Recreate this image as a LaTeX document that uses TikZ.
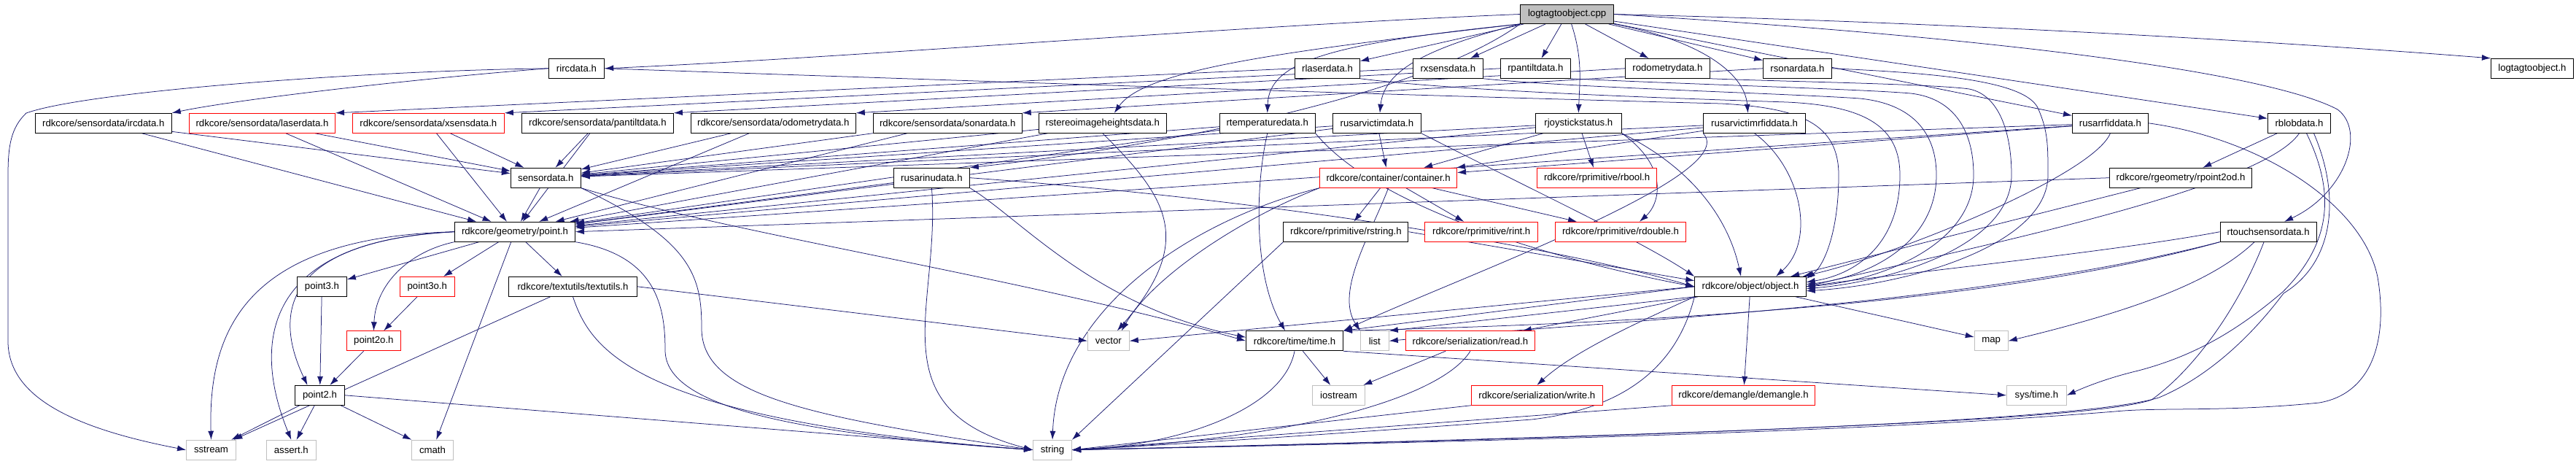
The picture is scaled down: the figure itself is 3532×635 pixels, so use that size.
\documentclass[tikz,border=0pt]{standalone}
\usepackage{fontspec}
\setmainfont{Liberation Sans}
\usetikzlibrary{arrows.meta,calc,backgrounds}
\definecolor{edgeblue}{HTML}{191970}
\definecolor{graybox}{HTML}{BFBFBF}
\definecolor{rootfill}{HTML}{BFBFBF}
\newcommand{\nfs}{\fontsize{13.2}{15}\selectfont}
\begin{document}
\begin{tikzpicture}[x=1pt,y=-1pt,
  nd/.style={draw=black, line width=0.9pt, fill=white, minimum height=27pt, inner sep=0pt, font=\nfs, text=black},
  nr/.style={nd, draw=red},
  ng/.style={nd, draw=graybox},
  rt/.style={nd, fill=rootfill, minimum height=26pt},
  ed/.style={draw=edgeblue, line width=0.75pt, -{Latex[length=12pt,width=8pt]}}]
\useasboundingbox (0,0) rectangle (3532,635);
% row 1
\node[rt, minimum width=128pt] (cpp) at (2148.6,19.5) {logtagtoobject.cpp};
% row 2
\node[nd, minimum width=76.6pt] (rirc) at (790.5,93.8) {rircdata.h};
\node[nd, minimum width=89pt] (rlas) at (1820,93.8) {rlaserdata.h};
\node[nd, minimum width=96pt] (rxs) at (1985.3,93.8) {rxsensdata.h};
\node[nd, minimum width=96pt] (rpan) at (2105.4,93.8) {rpantiltdata.h};
\node[nd, minimum width=116pt] (rodo) at (2286.4,93.8) {rodometrydata.h};
\node[nd, minimum width=94pt] (rson) at (2464.5,93.8) {rsonardata.h};
\node[nd, minimum width=113pt] (lth) at (3471.9,93.8) {logtagtoobject.h};
% row 3
\node[nd, minimum width=187pt] (ircd) at (141.8,168.8) {rdkcore/sensordata/ircdata.h};
\node[nr, minimum width=200pt] (lasd) at (359.5,168.8) {rdkcore/sensordata/laserdata.h};
\node[nr, minimum width=208pt] (xsd) at (587.4,168.8) {rdkcore/sensordata/xsensdata.h};
\node[nd, minimum width=208pt] (pand) at (819.4,168.8) {rdkcore/sensordata/pantiltdata.h};
\node[nd, minimum width=226pt] (odod) at (1060.3,168.8) {rdkcore/sensordata/odometrydata.h};
\node[nd, minimum width=204pt] (sond) at (1299.2,168.8) {rdkcore/sensordata/sonardata.h};
\node[nd, minimum width=175pt] (rster) at (1511.8,168.8) {rstereoimageheightsdata.h};
\node[nd, minimum width=131pt] (rtemp) at (1737.7,168.8) {rtemperaturedata.h};
\node[nd, minimum width=121pt] (ruvic) at (1887.9,168.8) {rusarvictimdata.h};
\node[nd, minimum width=118pt] (rjoy) at (2164.3,168.8) {rjoystickstatus.h};
\node[nd, minimum width=140pt] (ruvrf) at (2405.6,168.8) {rusarvictimrfiddata.h};
\node[nd, minimum width=104pt] (rurf) at (2893.4,168.8) {rusarrfiddata.h};
\node[nd, minimum width=86pt] (rblob) at (3152.5,168.8) {rblobdata.h};
% row 4
\node[nd, minimum width=96pt] (sens) at (748.3,243.7) {sensordata.h};
\node[nd, minimum width=104pt] (ruinu) at (1277.4,243.7) {rusarinudata.h};
\node[nr, minimum width=188pt] (cont) at (1903.6,243.7) {rdkcore/container/container.h};
\node[nr, minimum width=164pt] (rbool) at (2189.6,243.7) {rdkcore/rprimitive/rbool.h};
\node[nd, minimum width=195pt] (rp2od) at (2990,243.7) {rdkcore/rgeometry/rpoint2od.h};
% row 5
\node[nd, minimum width=165pt] (point) at (706,317.7) {rdkcore/geometry/point.h};
\node[nd, minimum width=171pt] (rstr) at (1845.4,317.7) {rdkcore/rprimitive/rstring.h};
\node[nr, minimum width=155pt] (rint) at (2031.2,317.7) {rdkcore/rprimitive/rint.h};
\node[nr, minimum width=179pt] (rdbl) at (2222,317.7) {rdkcore/rprimitive/rdouble.h};
\node[nd, minimum width=132pt] (rtouch) at (3110.1,317.7) {rtouchsensordata.h};
% row 6
\node[nd, minimum width=68pt] (p3) at (441.4,392.8) {point3.h};
\node[nr, minimum width=75pt] (p3o) at (585.8,392.8) {point3o.h};
\node[nd, minimum width=176pt] (tu) at (785.5,392.8) {rdkcore/textutils/textutils.h};
\node[nd, minimum width=152.6pt] (obj) at (2400,392.8) {rdkcore/object/object.h};
% row 7
\node[nr, minimum width=74pt] (p2o) at (512.4,467.3) {point2o.h};
\node[ng, minimum width=57pt] (vec) at (1519.8,467.3) {vector};
\node[nd, minimum width=133pt] (time) at (1775,467.3) {rdkcore/time/time.h};
\node[ng, minimum width=39pt] (list) at (1884.8,467.3) {list};
\node[nr, minimum width=177pt] (read) at (2015.9,467.3) {rdkcore/serialization/read.h};
\node[ng, minimum width=46pt] (map) at (2730.2,467.3) {map};
% row 8
\node[nd, minimum width=68pt] (p2) at (438.5,541.8) {point2.h};
\node[ng, minimum width=72pt] (ios) at (1835.5,541.8) {iostream};
\node[nr, minimum width=180pt] (write) at (2107.3,541.8) {rdkcore/serialization/write.h};
\node[nr, minimum width=196pt] (dem) at (2390.5,541.8) {rdkcore/demangle/demangle.h};
\node[ng, minimum width=82pt] (systime) at (2792.4,541.8) {sys/time.h};
% row 9
\node[ng, minimum width=68pt] (sstr) at (289.5,616.7) {sstream};
\node[ng, minimum width=68pt] (assert) at (399.3,616.7) {assert.h};
\node[ng, minimum width=57pt] (cmath) at (593,616.7) {cmath};
\node[ng, minimum width=53pt] (str) at (1443,616.7) {string};

\begin{scope}[on background layer]
\fill[white] (0,0) rectangle (3532,635);
% from cpp
\draw[ed] (cpp.west) .. controls (1700,35) and (1150,80) .. (rirc.east);
\draw[ed] (cpp) -- (rlas);
\draw[ed] (cpp) -- (rxs);
\draw[ed] (cpp) -- (rpan);
\draw[ed] (cpp) -- (rodo);
\draw[ed] (cpp) -- (rson);
\draw[ed] (cpp.east) .. controls (2650,30) and (3100,55) .. (lth.north west);
\draw[ed] (cpp.south west) .. controls (1760,70) and (1570,95) .. ($(rster.north)+(16,0)$);
\draw[ed] (cpp.south west) .. controls (1820,60) and (1740,85) .. (rtemp.north);
\draw[ed] (cpp.south west) .. controls (1960,65) and (1898,95) .. ($(ruvic.north)+(4,0)$);
\draw[ed] ($(cpp.south)+(6,0)$) .. controls (2170,80) and (2166,110) .. (rjoy.north);
\draw[ed] (cpp.south east) .. controls (2330,55) and (2392,100) .. ($(ruvrf.north)+(-9,0)$);
\draw[ed] (cpp) -- (rurf);
\draw[ed] (cpp) -- (rblob);
\draw[ed] (cpp.east) .. controls (2800,55) and (3120,105) .. (3205,150) .. controls (3245,180) and (3215,265) .. ($(rtouch.north)+(22,0)$);
\draw[ed] (cpp.south west) .. controls (1950,130) and (1600,200) .. (ruinu.north east);
% row 2
\draw[ed] (rirc.west) .. controls (600,105) and (330,135) .. (ircd.north east);
\draw[ed] (rirc.west) .. controls (500,97) and (120,125) .. (36,155) .. controls (15,175) and (11,200) .. (11,240) -- (11,470) .. controls (13,540) and (90,585) .. (sstr.west);
\draw[ed] (rirc.east) .. controls (1300,110) and (1900,130) .. (2360,142) .. controls (2470,148) and (2521,170) .. (2521,240) .. controls (2521,320) and (2500,365) .. ($(obj.north east)+(0,3)$);
\draw[ed] (rlas.south east) .. controls (2000,125) and (2300,135) .. (2450,140) .. controls (2560,145) and (2605,175) .. (2605,240) .. controls (2605,330) and (2550,375) .. ($(obj.east)+(0,-6)$);
\draw[ed] (rxs.south east) .. controls (2150,120) and (2450,128) .. (2550,135) .. controls (2620,142) and (2655,180) .. (2655,240) .. controls (2655,335) and (2560,380) .. ($(obj.east)+(0,-3)$);
\draw[ed] (rpan.south east) .. controls (2300,115) and (2550,122) .. (2620,128) .. controls (2680,135) and (2706,180) .. (2706,240) .. controls (2706,335) and (2580,385) .. (obj.east);
\draw[ed] (rodo.south east) .. controls (2450,112) and (2650,115) .. (2700,122) .. controls (2740,130) and (2758,180) .. (2758,240) .. controls (2758,335) and (2600,385) .. ($(obj.east)+(0,3)$);
\draw[ed] (rson.east) .. controls (2650,100) and (2780,110) .. (2795,150) .. controls (2808,180) and (2808,200) .. (2808,240) .. controls (2808,335) and (2620,390) .. ($(obj.east)+(0,6)$);
\draw[ed] (rlas.west) -- (lasd.north east);
\draw[ed] (rxs.west) -- (xsd.north east);
\draw[ed] (rpan.west) -- (pand.north east);
\draw[ed] (rodo.west) -- (odod.north east);
\draw[ed] (rson.west) -- (sond.north east);
% row 3
\foreach \s in {ircd,lasd,xsd,pand,odod,sond,rster,rtemp,ruvic,rjoy,ruvrf,rurf} {
  \draw[ed] (\s) -- (sens);
  \draw[ed] (\s) -- (point);
}
\draw[ed] (rster.south) .. controls (1600,270) and (1640,330) .. ($(vec.north)+(12,0)$);
\draw[ed] (rtemp.south) .. controls (1720,260) and (1720,380) .. ($(time.north)+(-13,0)$);
\draw[ed] (rtemp.south east) .. controls (1900,300) and (2200,370) .. (obj.west);
\draw[ed] (ruvic) -- (cont);
\draw[ed] (ruvic.south east) .. controls (2100,260) and (2250,330) .. (obj.north west);
\draw[ed] (rjoy) -- (rbool);
\draw[ed] (rjoy.south east) .. controls (2290,230) and (2275,280) .. ($(rdbl.north)+(26,0)$);
\draw[ed] (rjoy) -- (cont);
\draw[ed] (rjoy.south east) .. controls (2320,230) and (2370,300) .. ($(obj.north)+(-13,0)$);
\draw[ed] (ruvrf) -- (cont);
\draw[ed] (ruvrf.south) .. controls (2470,230) and (2490,330) .. ($(obj.north)+(35,0)$);
\draw[ed] (ruvrf.south west) .. controls (2390,240) and (2000,380) .. (time.north east);
\draw[ed] (rurf) -- (cont);
\draw[ed] (rurf.south) .. controls (2870,240) and (2600,350) .. ($(obj.north east)+(-5,0)$);
\draw[ed] (rurf.east) .. controls (3100,190) and (3240,280) .. (3260,380) .. controls (3275,470) and (3250,540) .. (3180,552) .. controls (3050,565) and (2960,558) .. (2900,564) .. controls (2600,588) and (2200,602) .. (str.east);
\draw[ed] (rblob) -- (rp2od);
\draw[ed] (rblob.south) .. controls (3100,260) and (2700,340) .. (obj.east);
\draw[ed] ($(rblob.south)+(10,0)$) .. controls (3200,260) and (3200,330) .. (3130,400) .. controls (3060,460) and (3000,490) .. (2932,508) .. controls (2890,518) and (2860,530) .. (systime.east);
\draw[ed] ($(rblob.south)+(20,0)$) .. controls (3210,270) and (3200,360) .. (3131,402) .. controls (3080,470) and (3020,520) .. (2960,545) .. controls (2880,570) and (2500,594) .. (str.east);
% row 4
\draw[ed] (rp2od.west) -- (point.east);
\draw[ed] (rp2od) -- (obj);
\draw[ed] (sens) -- (point);
\draw[ed] (sens.south east) .. controls (950,330) and (962,380) .. (962,450) .. controls (962,540) and (1100,570) .. (str.west);
\draw[ed] (sens.south east) .. controls (1000,320) and (1400,380) .. (time.west);
\draw[ed] (ruinu) -- (point);
\draw[ed] (ruinu.south east) .. controls (1400,300) and (1500,420) .. ($(time.west)+(0,-5)$);
\draw[ed] (ruinu.south) .. controls (1290,420) and (1200,560) .. (str.west);
\draw[ed] (ruinu.east) .. controls (1700,270) and (2100,330) .. (obj.west);
\draw[ed] (cont) -- (rstr);
\draw[ed] (cont) -- (rint);
\draw[ed] (cont) -- (rdbl);
\draw[ed] (cont.south west) .. controls (1700,300) and (1580,380) .. ($(vec.north)+(18,0)$);
\draw[ed] (cont.south west) .. controls (1640,300) and (1450,420) .. (str.north);
\draw[ed] (cont.south) .. controls (1880,320) and (1830,400) .. (list.north west);
% row 5
\draw[ed] (point) -- (p3);
\draw[ed] (point) -- (p3o);
\draw[ed] (point.south west) .. controls (560,345) and (515,390) .. (p2o.north);
\draw[ed] (point.west) .. controls (400,330) and (370,420) .. ($(p2.north)+(-17,0)$);
\draw[ed] (point.west) .. controls (360,330) and (345,470) .. (assert.north);
\draw[ed] (point.west) .. controls (340,325) and (285,450) .. (sstr.north);
\draw[ed] (point) -- (cmath);
\draw[ed] (point) -- (tu);
\draw[ed] (point.south east) .. controls (900,350) and (912,420) .. (912,480) .. controls (912,560) and (1100,595) .. (str.west);
\draw[ed] (rstr.east) -- ($(obj.west)+(0,-8)$);
\draw[ed] (rstr.south west) -- (str.north east);
\draw[ed] (rtouch.west) .. controls (2900,345) and (2600,375) .. (obj.east);
\draw[ed] ($(rtouch.south)+(-19,0)$) .. controls (3040,380) and (2950,420) .. (map.east);
\draw[ed] ($(rtouch.south)+(-6,0)$) .. controls (3070,420) and (3010,505) .. (2950,548) .. controls (2880,572) and (2500,592) .. (str.east);
\draw[ed] (rtouch.south west) .. controls (2800,400) and (2400,440) .. (time.north east);
\draw[ed] (rtouch.south west) .. controls (2700,420) and (2200,440) .. (list.east);
% row 6
\draw[ed] (p3) -- (p2);
\draw[ed] (p3o) -- (p2o);
\draw[ed] (tu) -- (sstr);
\draw[ed] (tu.south) .. controls (810,480) and (870,575) .. (str.west);
\draw[ed] (tu.east) -- (vec.west);
\draw[ed] (obj.west) -- (time.north east);
\draw[ed] (obj.south west) -- (list.north east);
\draw[ed] (obj.west) -- (vec.east);
\draw[ed] (obj) -- (read);
\draw[ed] (obj.south west) .. controls (2250,440) and (2160,480) .. (write.north);
\draw[ed] (obj) -- (dem);
\draw[ed] (obj) -- (map);
\draw[ed] (obj.south west) .. controls (2300,500) and (2230,560) .. (2100,575) .. controls (1900,590) and (1600,610) .. (str.east);
% row 7
\draw[ed] (p2o) -- (p2);
\draw[ed] (time) -- (ios);
\draw[ed] (time.south) .. controls (1760,560) and (1620,610) .. (str.east);
\draw[ed] (time.south east) -- (systime.west);
\draw[ed] (read) -- (ios);
\draw[ed] (read.south) .. controls (1980,540) and (1800,600) .. (str.east);
% row 8
\draw[ed] (p2) -- (sstr);
\draw[ed] (p2) -- (assert);
\draw[ed] (p2) -- (cmath);
\draw[ed] (p2.east) -- (str.west);
\draw[ed] (write.south west) -- (str.east);
\draw[ed] (dem.south west) -- (str.east);
\end{scope}
\end{tikzpicture}
\end{document}
